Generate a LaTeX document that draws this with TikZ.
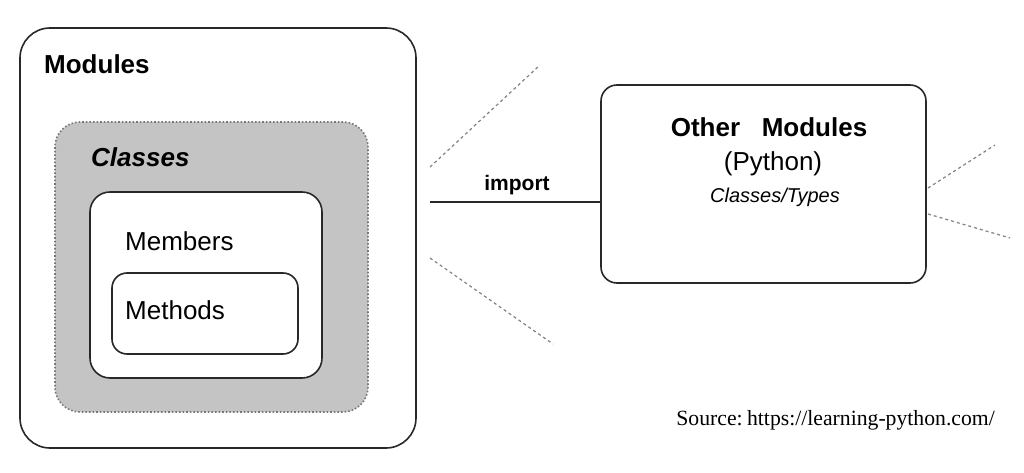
\documentclass[tikz,border=0pt]{standalone}
\usepackage{fontspec}
\setmainfont{Liberation Sans}
\newfontfamily\srcfont{Liberation Serif}
\begin{document}
\begin{tikzpicture}[x=1pt,y=-1pt,
  box/.style={draw={rgb,255:red,40;green,40;blue,40},line width=1.6pt,rectangle,inner sep=0pt},
  graybox/.style={box,draw={rgb,255:red,120;green,120;blue,120},dotted,fill={rgb,255:red,196;green,196;blue,196}},
  lbl/.style={inner sep=0pt,anchor=base west,font=\fontsize{26}{30}\selectfont},
  ctr/.style={inner sep=0pt,anchor=base},
  dashline/.style={draw={rgb,255:red,130;green,130;blue,130},line width=1.2pt,dash pattern=on 3pt off 3pt}]
\useasboundingbox (0,0) rectangle (1024,473);
\fill[white] (0,0) rectangle (1024,473);
% boxes
\node[box,rounded corners=30pt,minimum width=396pt,minimum height=420pt] (modules) at (218,238) {};
\node[graybox,rounded corners=25pt,minimum width=313pt,minimum height=290pt] (classes) at (211.5,267) {};
\node[box,fill=white,rounded corners=20pt,minimum width=232pt,minimum height=186pt] (members) at (206,285) {};
\node[box,rounded corners=15pt,minimum width=186pt,minimum height=81pt] (methods) at (205,313.5) {};
\node[box,rounded corners=16pt,minimum width=325pt,minimum height=198pt] (other) at (763.5,184) {};
% labels
\node[lbl,font=\fontsize{26}{30}\selectfont\bfseries] (tmod) at (44,74) {Modules};
\node[lbl,font=\fontsize{26}{30}\selectfont\bfseries\itshape] (tcls) at (91,167) {Classes};
\node[lbl] (tmem) at (125,250) {Members};
\node[lbl] (tmeth) at (125,319) {Methods};
\node[ctr,font=\fontsize{26}{30}\selectfont\bfseries] (toth) at (769,137) {Other\ \ \ Modules};
\node[ctr,font=\fontsize{26}{30}\selectfont] (tpy) at (773,171) {(Python)};
\node[ctr,font=\fontsize{20}{24}\selectfont\itshape] (tct) at (775,202) {Classes/Types};
% import connector
\coordinate (impstart) at (430,202);
\draw[draw={rgb,255:red,40;green,40;blue,40},line width=1.6pt] (impstart) -- (other.west |- impstart);
\node[ctr,font=\fontsize{21}{25}\selectfont\bfseries] (timp) at (517,190) {import};
% dashed lines
\coordinate (d1a) at (430,167); \coordinate (d1b) at (540,65);
\coordinate (d2a) at (430,258); \coordinate (d2b) at (553,344);
\coordinate (d3a) at (928,188); \coordinate (d3b) at (995,145);
\coordinate (d4a) at (928,214); \coordinate (d4b) at (1010,238);
\draw[dashline] (d1a) -- (d1b);
\draw[dashline] (d2a) -- (d2b);
\draw[dashline] (d3a) -- (d3b);
\draw[dashline] (d4a) -- (d4b);
% source
\node[inner sep=0pt,anchor=base east,font=\srcfont\fontsize{21.7}{26}\selectfont] (src) at (995,425) {Source:\kern-1pt\ https://learning-python.com/};
\end{tikzpicture}
\end{document}
